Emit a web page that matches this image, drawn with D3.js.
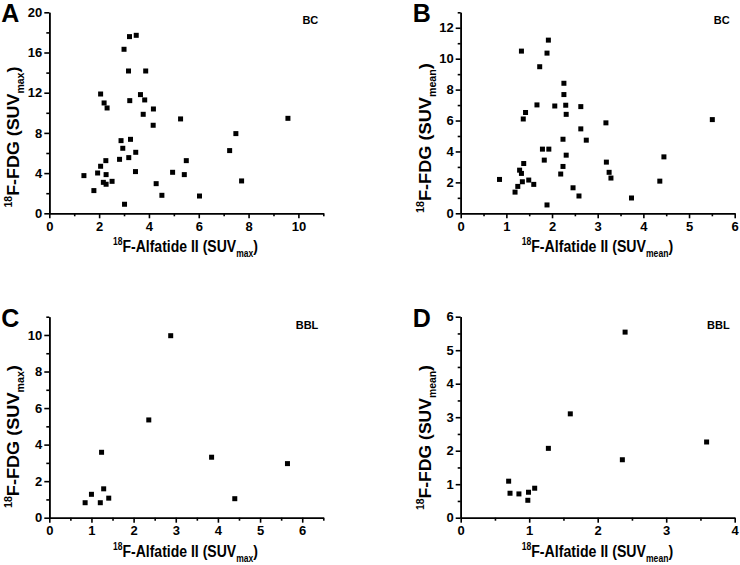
<!DOCTYPE html>
<html><head><meta charset="utf-8">
<script src="https://cdn.jsdelivr.net/npm/d3@7"></script>
<style>
body{margin:0;background:#fff;}
svg text{font-family:"Liberation Sans",Arial,sans-serif;font-weight:bold;fill:#000;}
</style></head>
<body><svg id="c" width="740" height="565"></svg>
<script>
// Panel A: BC, SUVmax
const aX = [1.39,1.79,1.94,2.06,2.06,2.17,2.20,2.27,2.28,2.28,2.32,2.52,2.82,2.88,2.95,3.00,3.02,3.18,3.19,3.22,3.23,3.26,3.46,3.47,3.49,3.66,3.77,3.83,3.87,4.18,4.17,4.29,4.52,4.95,5.27,5.42,5.50,6.03,7.24,7.49,7.72,9.58];
const aY = [3.75,2.26,4.01,11.87,4.68,3.08,10.98,5.24,3.85,2.89,10.48,3.18,5.37,7.23,6.47,16.32,0.90,14.16,5.54,17.58,11.21,7.36,4.15,6.07,17.71,11.81,9.85,11.28,14.16,10.38,8.76,2.95,1.79,4.08,9.39,3.85,5.24,1.72,6.24,7.93,3.22,9.45];
// Panel B: BC, SUVmean
const bX = [0.85,1.19,1.25,1.29,1.33,1.35,1.38,1.49,1.60,1.79,1.83,1.89,1.93,2.19,2.24,2.24,2.31,2.46,2.59,2.63,2.75,1.92,1.33,1.89,1.73,2.26,2.26,1.67,2.06,2.30,2.63,1.42,1.37,2.31,3.18,5.51,3.19,4.45,3.25,3.29,4.36,3.74];
const bY = [2.19,1.37,1.74,2.79,2.58,2.04,3.22,2.15,1.87,4.15,3.44,0.54,4.15,2.54,4.79,3.03,3.76,1.65,1.12,5.46,4.73,11.20,10.49,10.36,9.48,8.41,7.68,7.01,6.94,6.99,6.90,6.52,6.10,6.40,5.85,6.06,3.31,3.65,2.65,2.28,2.08,0.99];
// Panel C: BBL, SUVmax
const cX = [0.85,1.00,1.21,1.24,1.29,1.41,2.36,2.88,3.85,4.40,5.65];
const cY = [0.82,1.28,0.82,3.58,1.58,1.07,5.35,9.96,3.31,1.04,2.96];
// Panel D: BBL, SUVmean
const dX = [0.70,0.72,0.85,0.99,0.98,1.08,1.28,1.60,2.36,2.40,3.59];
const dY = [1.09,0.73,0.71,0.76,0.52,0.88,2.07,3.10,1.73,5.54,2.26];

const panelLetters = ["A","B","C","D"];
const groupLabels = ["BC","BC","BBL","BBL"];
const subs = ["max","mean","max","mean"];
const xMax = [11,6,6.5,4], yMax = [20,13,11,6];
const xMajor = [[0,2,4,6,8,10],[0,1,2,3,4,5,6],[0,1,2,3,4,5,6],[0,1,2,3,4]];
const yMajor = [[0,4,8,12,16,20],[0,2,4,6,8,10,12],[0,2,4,6,8,10],[0,1,2,3,4,5,6]];
const xMinor = [[1,3,5,7,9,11],[0.5,1.5,2.5,3.5,4.5,5.5],[0.5,1.5,2.5,3.5,4.5,5.5,6.5],[0.5,1.5,2.5,3.5]];
const yMinor = [[2,6,10,14,18],[1,3,5,7,9,11,13],[1,3,5,7,9,11],[0.5,1.5,2.5,3.5,4.5,5.5]];
const xs = [aX,bX,cX,dX], ys = [aY,bY,cY,dY];

const svg = d3.select("#c");
const L = [49.3,460.7,49.3,460.7], B = [213.3,213.3,517.7,517.7];
const W = 274, H = 201;
const xtLeft = [113,521.7,113,521.7], xtWidth = [145,151.6,145,151.6];
const ytBottom = [207.5,213,508,510], ytLen = [141,150,143,145];

function title(g, main, sub, fs, sfs){
  const t = g.append("text").style("font-size",fs+"px");
  t.append("tspan").attr("dy",-Math.round(fs*0.42)).style("font-size",sfs+"px").text("18");
  t.append("tspan").attr("dy",Math.round(fs*0.42)).text(main+"(SUV");
  t.append("tspan").attr("dy",Math.round(fs*0.3)).style("font-size",sfs+"px").text(sub);
  t.append("tspan").attr("dy",-Math.round(fs*0.3)).text(")");
  return t;
}

for (let i=0;i<4;i++){
  const g = svg.append("g");
  const x = d3.scaleLinear().domain([0,xMax[i]]).range([L[i],L[i]+W]);
  const y = d3.scaleLinear().domain([0,yMax[i]]).range([B[i],B[i]-H]);
  const xa = g.append("g").attr("transform",`translate(0,${B[i]})`)
    .call(d3.axisBottom(x).tickValues(xMajor[i]).tickSize(5).tickSizeOuter(0).tickPadding(3).tickFormat(d3.format("d")));
  const xm = g.append("g").attr("transform",`translate(0,${B[i]})`)
    .call(d3.axisBottom(x).tickValues(xMinor[i]).tickSize(3).tickSizeOuter(0).tickFormat(""));
  const ya = g.append("g").attr("transform",`translate(${L[i]},0)`)
    .call(d3.axisLeft(y).tickValues(yMajor[i]).tickSize(5).tickSizeOuter(0).tickPadding(2).tickFormat(d3.format("d")));
  const ym = g.append("g").attr("transform",`translate(${L[i]},0)`)
    .call(d3.axisLeft(y).tickValues(yMinor[i]).tickSize(3).tickSizeOuter(0).tickFormat(""));
  [xa,xm,ya,ym].forEach(a=>{
    a.selectAll("path,line").attr("stroke","#000").attr("stroke-width",1.6);
    a.selectAll("text").style("font-size","13px").attr("fill","#000");
  });
  // points
  g.append("g").selectAll("rect").data(xs[i].map((v,k)=>[v,ys[i][k]])).join("rect")
    .attr("x",d=>x(d[0])-2.5).attr("y",d=>y(d[1])-2.5).attr("width",5).attr("height",5).attr("fill","#000");
  // panel letter
  g.append("text").attr("x",L[i]-48).attr("y",B[i]-191).style("font-size","25px").text(panelLetters[i]);
  // group label
  g.append("text").attr("x",L[i]+269).attr("y",B[i]-189).attr("text-anchor","end").style("font-size","11px").text(groupLabels[i]);
  // x title, horizontally condensed to the reference width
  const xt = title(g, "F-Alfatide II ", subs[i], 16.5, 10);
  const sx = xtWidth[i] / xt.node().getComputedTextLength();
  xt.attr("transform",`translate(${xtLeft[i]},${B[i]+39}) scale(${sx},1)`);
  // y title
  const yt = title(g, "F-FDG ", subs[i], 17, 10);
  const sy = ytLen[i] / yt.node().getComputedTextLength();
  yt.attr("transform",`translate(${L[i]-30},${ytBottom[i]}) rotate(-90) scale(${sy},1)`);
}
</script></body></html>
